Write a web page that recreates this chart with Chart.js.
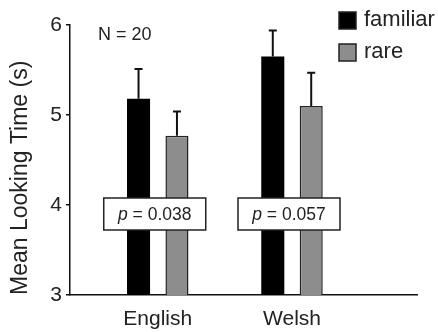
<!DOCTYPE html>
<html>
<head>
<meta charset="utf-8">
<script src="https://cdn.jsdelivr.net/npm/chart.js@4/dist/chart.umd.min.js"></script>
<style>
  html, body { margin: 0; padding: 0; background: #fff; }
  #wrap { width: 438px; height: 332px; }
</style>
</head>
<body>
<div id="wrap"><canvas id="c" width="438" height="332"></canvas></div>
<script>
// Mean looking time per language, split by word frequency
const categories = ['English', 'Welsh'];
const familiar = [5.18, 5.65];
const rare = [4.77, 5.10];
const familiarErr = [0.33, 0.29];
const rareErr = [0.27, 0.37];
const pValues = ['0.038', '0.057'];
const yTicks = [3, 4, 5, 6];
const sampleNote = 'N = 20';

const FONT = '"Liberation Sans", Arial, Helvetica, sans-serif';
const GREY = '#8d8d8d';

const toPoints = arr => arr.map((v, i) => ({ x: i + 1, y: v }));

// error bars (upper whisker only) drawn from the scales
const errorBars = {
  id: 'errorBars',
  afterDatasetsDraw(chart) {
    const ctx = chart.ctx;
    const ys = chart.scales.y;
    const errs = [familiarErr, rareErr];
    chart.data.datasets.forEach((ds, di) => {
      const meta = chart.getDatasetMeta(di);
      meta.data.forEach((bar, i) => {
        const top = ys.getPixelForValue(ds.data[i].y + errs[di][i]);
        ctx.save();
        ctx.strokeStyle = '#111';
        ctx.lineWidth = 2;
        ctx.beginPath();
        ctx.moveTo(bar.x, bar.y);
        ctx.lineTo(bar.x, top);
        ctx.moveTo(bar.x - 4, top);
        ctx.lineTo(bar.x + 4, top);
        ctx.stroke();
        ctx.restore();
      });
    });
  }
};

// p-value boxes, sample size note and legend
const annotations = {
  id: 'annotations',
  afterDraw(chart) {
    const ctx = chart.ctx;
    const xs = chart.scales.x, ys = chart.scales.y;
    const area = chart.chartArea;

    // p-value boxes across each group
    const yc = ys.getPixelForValue(3.9);
    pValues.forEach((p, i) => {
      const xc = xs.getPixelForValue(i + 1) - 3;
      const w = 102, h = 32;
      ctx.save();
      ctx.fillStyle = '#fff';
      ctx.strokeStyle = '#222';
      ctx.lineWidth = 1.5;
      ctx.fillRect(xc - w / 2, yc - h / 2, w, h);
      ctx.strokeRect(xc - w / 2, yc - h / 2, w, h);
      ctx.fillStyle = '#222';
      ctx.textBaseline = 'middle';
      ctx.font = 'italic 17.5px ' + FONT;
      const pW = ctx.measureText('p').width;
      ctx.font = '17.5px ' + FONT;
      const rest = ' = ' + p;
      const rW = ctx.measureText(rest).width;
      const x0 = xc - (pW + rW) / 2;
      ctx.font = 'italic 17.5px ' + FONT;
      ctx.textAlign = 'left';
      ctx.fillText('p', x0, yc + 1);
      ctx.font = '17.5px ' + FONT;
      ctx.fillText(rest, x0 + pW, yc + 1);
      ctx.restore();
    });

    // sample size
    ctx.save();
    ctx.fillStyle = '#222';
    ctx.font = '18px ' + FONT;
    ctx.textBaseline = 'middle';
    ctx.textAlign = 'left';
    ctx.fillText(sampleNote, area.left + 28, area.top + 10);
    ctx.restore();

    // legend
    ctx.save();
    chart.data.datasets.forEach((ds, di) => {
      const y = 20 + di * 32;
      ctx.fillStyle = ds.backgroundColor;
      ctx.fillRect(339, y - 8, 17, 17);
      ctx.strokeStyle = '#222';
      ctx.lineWidth = 1.5;
      ctx.strokeRect(339, y - 8, 17, 17);
      ctx.fillStyle = '#222';
      ctx.font = '22px ' + FONT;
      ctx.textBaseline = 'middle';
      ctx.textAlign = 'left';
      ctx.fillText(ds.label, 364, y);
    });
    ctx.restore();
  }
};

new Chart(document.getElementById('c'), {
  type: 'bar',
  data: {
    datasets: [
      { label: 'familiar', data: toPoints(familiar), backgroundColor: '#000', borderColor: '#000', borderWidth: 0 },
      { label: 'rare', data: toPoints(rare), backgroundColor: GREY, borderColor: '#222', borderWidth: 1.5 }
    ]
  },
  options: {
    responsive: false,
    animation: false,
    devicePixelRatio: 1,
    layout: { padding: { left: 0, right: 21, top: 25, bottom: 0 } },
    categoryPercentage: 0.5725,
    barPercentage: 0.6,
    plugins: { legend: { display: false }, tooltip: { enabled: false } },
    scales: {
      x: {
        type: 'linear',
        offset: false,
        min: 0.3464,
        max: 2.9311,
        afterBuildTicks: s => { s.ticks = categories.map((_, i) => ({ value: i + 1 })); },
        afterFit: s => { s.height = 37; },
        ticks: {
          callback: v => categories[v - 1] || '',
          color: '#222',
          font: { family: FONT, size: 21 },
          padding: 12,
          maxRotation: 0,
          autoSkip: false
        },
        grid: { display: true, offset: false, drawOnChartArea: false, drawTicks: false },
        border: { display: true, color: '#111', width: 1.5 }
      },
      y: {
        min: 3,
        max: 6,
        afterBuildTicks: s => { s.ticks = yTicks.map(v => ({ value: v })); },
        afterFit: s => { s.width = 70; },
        ticks: {
          color: '#222',
          font: { family: FONT, size: 21 },
          padding: 4
        },
        grid: { display: true, drawOnChartArea: false, drawTicks: true, tickLength: 4, color: '#111', lineWidth: 1.5 },
        border: { display: true, color: '#111', width: 1.5 },
        title: {
          display: true,
          text: 'Mean Looking Time (s)',
          align: 'start',
          color: '#222',
          font: { family: FONT, size: 23 },
          padding: { top: 7, bottom: 0 }
        }
      }
    }
  },
  plugins: [errorBars, annotations]
});
</script>
</body>
</html>
